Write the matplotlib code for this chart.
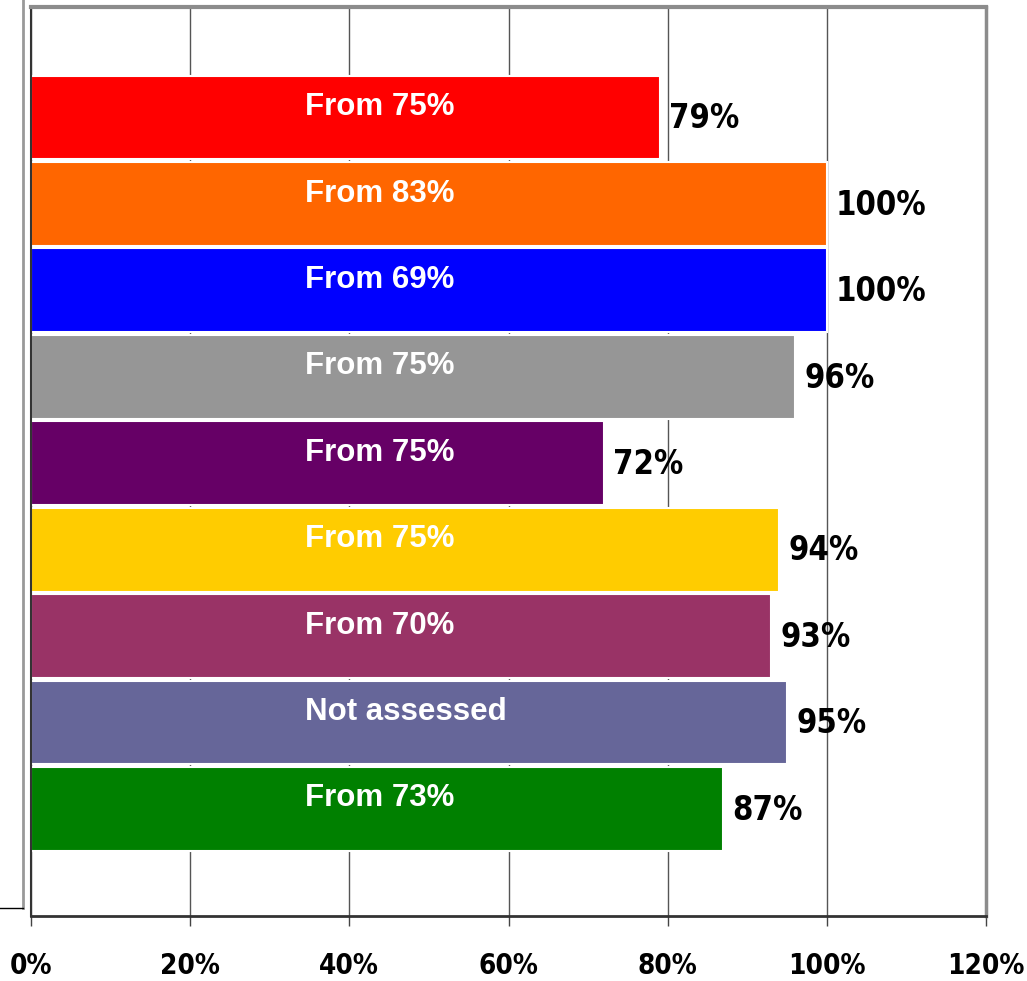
import matplotlib.pyplot as plt
from matplotlib.lines import Line2D
from matplotlib.ticker import MultipleLocator, FuncFormatter

# score per group, with the threshold noted inside each bar
values = [79, 100, 100, 96, 72, 94, 93, 95, 87]
inner_labels = ['From 75%', 'From 83%', 'From 69%', 'From 75%', 'From 75%',
                'From 75%', 'From 70%', 'Not assessed', 'From 73%']
colors = ['#FF0000', '#FF6600', '#0000FF', '#969696', '#660066',
          '#FFCC00', '#993366', '#666699', '#008000']

narrow = dict(family='DejaVu Sans', stretch='condensed', weight='bold')
wide = ['Liberation Sans', 'DejaVu Sans']

fig = plt.figure(figsize=(10.27, 9.81), dpi=100)
ax = fig.add_axes([0.0302, 0.0663, 0.9299, 0.9266])

pos = range(len(values))
ax.barh(pos, values, height=0.97, color=colors, edgecolor='white',
        linewidth=1.5, zorder=2)

for i, (v, lab) in enumerate(zip(values, inner_labels)):
    ax.text(34.4, i - 0.12, lab, color='white', fontsize=22.5,
            fontweight='bold', family=wide, ha='left', va='center', zorder=3)
    ax.annotate(f'{v}%', (v, i), xytext=(6.5, -1), textcoords='offset points',
                fontsize=23.5, ha='left', va='center', zorder=3, **narrow)

ax.set_xlim(0, 120)
ax.set_ylim(8 + 1.24, -1.28)
ax.xaxis.set_major_locator(MultipleLocator(20))
ax.xaxis.set_major_formatter(FuncFormatter(lambda x, p: f'{x:.0f}%'))
ax.set_yticks([])

ax.grid(axis='x', color='#555555', linewidth=1)
ax.set_axisbelow(True)

ax.tick_params(axis='x', direction='out', length=7.2, width=1,
               color='#444444', pad=19)
for t in ax.get_xticklabels():
    t.set_fontproperties(dict(size=20, **narrow))

ax.spines['left'].set_color('#333333')
ax.spines['bottom'].set_color('#333333')
ax.spines['left'].set_linewidth(1.5)
ax.spines['bottom'].set_linewidth(2)
ax.spines['top'].set_color('#8c8c8c')
ax.spines['right'].set_color('#8c8c8c')
ax.spines['top'].set_linewidth(3)
ax.spines['right'].set_linewidth(2.5)

# outer frame remnants on the left side
fig.add_artist(Line2D([23 / 1027, 23 / 1027], [1, 1 - 908 / 981],
                      color='#999999', linewidth=2))
fig.add_artist(Line2D([0, 23 / 1027], [1 - 908 / 981, 1 - 908 / 981],
                      color='black', linewidth=1))

fig.savefig('out.png', dpi=100)
